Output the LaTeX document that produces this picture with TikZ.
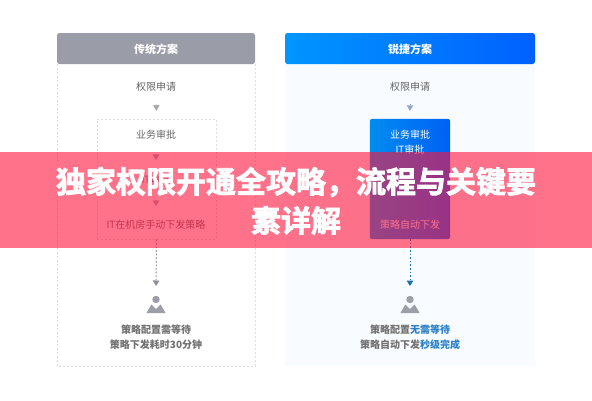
\documentclass[tikz,border=0pt]{standalone}
\usepackage{fontspec}
\setmainfont{Noto Sans CJK SC}
\newfontfamily\cjktitle{Noto Sans CJK SC}[BoldFont={* Bold},BoldFeatures={FakeBold=2.6}]
\usetikzlibrary{arrows.meta}
\definecolor{txt}{HTML}{666666}
\definecolor{txtb}{HTML}{727272}
\definecolor{hgray}{HTML}{9A9CA8}
\definecolor{dashc}{HTML}{DCDCE0}
\definecolor{tipgray}{HTML}{A6A8B0}
\definecolor{dotgray}{HTML}{8E9098}
\definecolor{iconc}{HTML}{9C9EA8}
\definecolor{bluet}{HTML}{2A80C8}
\definecolor{bluedot}{RGB}{26,111,181}
\definecolor{bluetip}{HTML}{8FA6CC}
\definecolor{panelb}{HTML}{F8FBFF}
\definecolor{bannerc}{RGB}{255,20,60}
\definecolor{headl}{RGB}{0,150,255}
\definecolor{headr}{RGB}{0,96,255}
\definecolor{boxl}{RGB}{0,140,240}
\definecolor{boxr}{RGB}{0,96,245}
\newcommand{\fs}[1]{\fontsize{#1}{#1}\selectfont}
\tikzset{
  x=1pt,y=-1pt,
  lab/.style={text=txt,inner sep=0pt,font=\fs{10}},
  wlab/.style={text=white,inner sep=0pt,font=\fs{10}},
  boldlab/.style={text=#1,inner sep=0pt,font=\fs{10}\bfseries,align=center},
  head/.style={text=white,inner sep=0pt,font=\fs{11}\bfseries},
  boxdash/.style={draw=dashc,dash pattern=on 2pt off 2pt,line width=.6pt},
  tipline/.style={draw=#1,line width=.4pt,-{Triangle[length=5.5pt,width=6.5pt,fill=#1]}},
  dotline/.style={draw=#1,line width=1pt,dash pattern=on 1.6pt off 2pt,-{Triangle[length=5.5pt,width=6.5pt,fill=#1]}},
  titletext/.style={text=white,inner sep=0pt,font=\cjktitle\fs{30}\bfseries}
}
\newcommand{\mtn}[2]{%
  \fill[iconc] (#1,#2) circle (3.7);
  \fill[iconc] (#1-9.6,#2+13.5) -- (#1-4.6,#2+5) -- (#1,#2+9.5) -- (#1+4.6,#2+5) -- (#1+9.6,#2+13.5) -- cycle;
}
\begin{document}
\begin{tikzpicture}
\useasboundingbox (0,0) rectangle (592,400);
\fill[white] (0,0) rectangle (592,400);
% left panel
\draw[boxdash] (57,64) -- (57,366) -- (255,366) -- (255,64);
\fill[hgray,rounded corners=2.5pt] (57,64) -- (57,33) -- (255,33) -- (255,64) -- cycle;
\node[head] (lh) at (156,49.5) {传统方案};
\node[lab] (l1) at (156,87) {权限申请};
\node[boxdash,minimum width=119,minimum height=120,inner sep=0pt] (lbox) at (156.5,179) {};
\node[lab] (l2) at (156,135) {业务审批};
\node[lab] (l3) at (156,180) {IT审批};
\node[lab] (l4) at (156,225) {IT在机房手动下发策略};
\coordinate (lic) at (156,296);
\mtn{156}{299.5}
\node[boldlab=txtb] (lt1) at (156,330) {策略配置需等待};
\node[boldlab=txtb] (lt2) at (156,344.5) {策略下发耗时30分钟};
\draw[tipline=tipgray,shorten <=17pt,shorten >=8pt] (l1.center) -- (lbox.north);
\draw[tipline=tipgray,shorten <=19pt,shorten >=20pt] (l2.center) -- (l3.center);
\draw[tipline=tipgray,shorten <=20pt,shorten >=19pt] (l3.center) -- (l4.center);
\draw[dotline=dotgray,shorten >=10pt] (lbox.south) -- (lic);
% right panel
\fill[panelb] (285,64) rectangle (535,366);
\shade[left color=headl,right color=headr,rounded corners=2.5pt] (285,64) -- (285,33) -- (535,33) -- (535,64) -- cycle;
\node[head] (rh) at (410,49.5) {锐捷方案};
\node[lab] (r1) at (410,87) {权限申请};
\node[minimum width=80,minimum height=120,inner sep=0pt] (rbox) at (410,179) {};
\shade[left color=boxl,right color=boxr,rounded corners=2.5pt] (rbox.north west) rectangle (rbox.south east);
\node[wlab] (r2) at (410,135) {业务审批};
\node[wlab] (r3) at (410,150) {IT审批};
\node[wlab] (r4) at (410,225) {策略自动下发};
\coordinate (ric) at (410,296);
\mtn{410}{299.5}
\node[boldlab=txtb] (rt1) at (410,330) {策略配置\textcolor{bluet}{无需等待}};
\node[boldlab=txtb] (rt2) at (410,344.5) {策略自动下发\textcolor{bluet}{秒级完成}};
\draw[tipline=bluetip,shorten <=17pt,shorten >=8pt] (r1.center) -- (rbox.north);
\draw[dotline=bluedot,shorten >=10pt] (rbox.south) -- (ric);
% banner
\fill[bannerc,opacity=.6] (0,152) rectangle (592,248);
\node[titletext] (t1) at (296,182) {独家权限开通全攻略，流程与关键要};
\node[titletext] (t2) at (296,220.5) {素详解};
\end{tikzpicture}
\end{document}
